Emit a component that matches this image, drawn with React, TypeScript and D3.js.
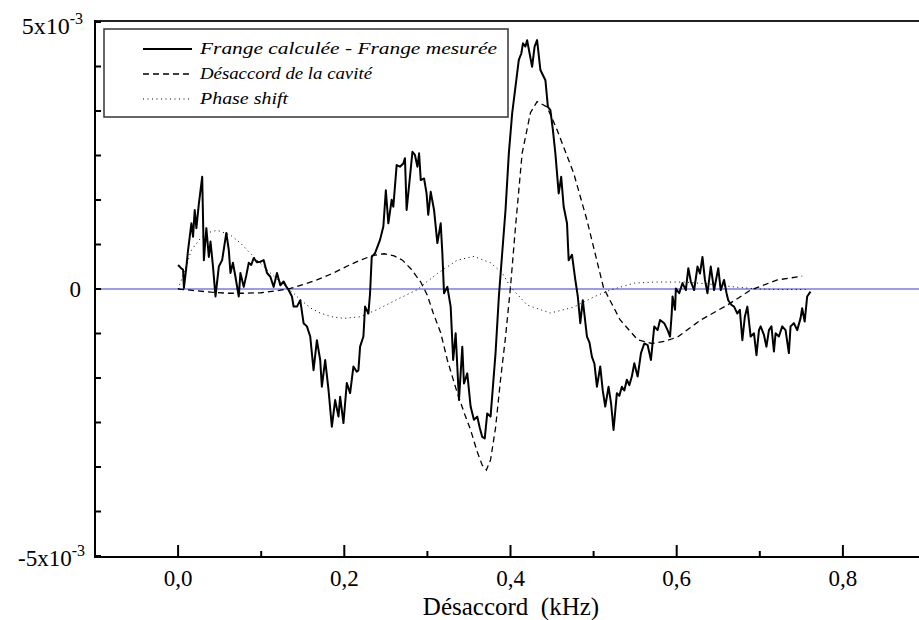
import React from "react";
import * as d3 from "d3";

// x in kHz, y in units of 1e-3
const solidData: [number, number][] = [
  [0.000, 0.45], [0.003, 0.40], [0.006, 0.36], [0.007, 0.02], [0.010, 0.42], [0.012, 0.73],
  [0.016, 1.23], [0.018, 0.98], [0.020, 1.48], [0.022, 1.14], [0.025, 1.6], [0.029, 2.10],
  [0.031, 0.54], [0.034, 1.14], [0.037, 0.60], [0.039, 0.89], [0.042, 0.42], [0.045, -0.14],
  [0.049, 0.42], [0.053, 0.54], [0.058, 1.05], [0.061, 0.73], [0.063, 0.30], [0.066, 0.49],
  [0.069, 0.23], [0.073, -0.14], [0.075, 0.30], [0.079, 0.04], [0.082, 0.25], [0.085, 0.49],
  [0.088, 0.45], [0.091, 0.58], [0.095, 0.50], [0.099, 0.51], [0.103, 0.54], [0.107, 0.30],
  [0.111, 0.23], [0.115, 0.04], [0.119, 0.30], [0.123, 0.07], [0.127, 0.14], [0.130, 0.05],
  [0.133, -0.02], [0.137, -0.14], [0.139, -0.33], [0.143, -0.33], [0.147, -0.21], [0.151, -0.64],
  [0.155, -0.70], [0.159, -0.89], [0.163, -1.52], [0.167, -0.96], [0.171, -1.33], [0.173, -1.83],
  [0.177, -1.33], [0.181, -1.89], [0.185, -2.58], [0.189, -2.08], [0.193, -2.39], [0.195, -2.02],
  [0.199, -2.51], [0.203, -1.76], [0.207, -1.95], [0.211, -1.45], [0.215, -1.55], [0.217, -1.52],
  [0.219, -1.08], [0.223, -0.89], [0.225, -0.33], [0.229, -0.46], [0.231, -0.08], [0.233, 0.60],
  [0.237, 0.67], [0.243, 0.92], [0.247, 1.17], [0.250, 1.85], [0.253, 1.23], [0.257, 1.67],
  [0.259, 1.54], [0.263, 2.32], [0.267, 2.29], [0.271, 2.35], [0.273, 2.45], [0.275, 1.48],
  [0.279, 2.10], [0.282, 2.57], [0.285, 2.51], [0.288, 2.29], [0.290, 2.54], [0.292, 2.04],
  [0.296, 2.07], [0.299, 1.79], [0.301, 1.39], [0.304, 1.82], [0.308, 1.48], [0.312, 0.86],
  [0.316, 1.23], [0.318, 0.67], [0.320, -0.08], [0.324, 0.04], [0.328, -0.33], [0.331, -1.33],
  [0.334, -0.83], [0.338, -2.08], [0.342, -1.08], [0.344, -1.77], [0.348, -1.58], [0.352, -2.20],
  [0.356, -2.45], [0.360, -2.39], [0.363, -2.6], [0.366, -2.77], [0.369, -2.8], [0.372, -2.33],
  [0.376, -2.39], [0.379, -1.8], [0.382, -1.20], [0.386, -0.14], [0.390, 0.67], [0.394, 1.48],
  [0.398, 2.54], [0.402, 3.29], [0.406, 3.79], [0.410, 4.29], [0.413, 4.41], [0.415, 4.60],
  [0.418, 4.54], [0.420, 4.66], [0.423, 4.41], [0.426, 4.16], [0.429, 4.54], [0.432, 4.66],
  [0.436, 4.10], [0.442, 3.91], [0.445, 3.41], [0.448, 3.35], [0.451, 2.98], [0.454, 2.54],
  [0.458, 1.79], [0.461, 2.10], [0.464, 1.54], [0.468, 1.23], [0.470, 0.54], [0.474, 0.64],
  [0.478, 0.17], [0.481, -0.14], [0.484, -0.64], [0.487, -0.21], [0.492, -0.89], [0.495, -1.0],
  [0.498, -1.27], [0.501, -1.4], [0.504, -1.83], [0.508, -1.45], [0.511, -1.9], [0.514, -2.20],
  [0.518, -1.83], [0.521, -2.14], [0.524, -2.64], [0.528, -1.95], [0.531, -2.0], [0.534, -1.83],
  [0.537, -1.9], [0.540, -1.70], [0.543, -1.8], [0.546, -1.64], [0.549, -1.39], [0.553, -1.64],
  [0.557, -1.20], [0.561, -1.02], [0.565, -1.05], [0.569, -1.33], [0.573, -0.70], [0.577, -0.77],
  [0.580, -0.58], [0.585, -0.64], [0.589, -0.77], [0.592, -0.89], [0.594, -0.46], [0.595, -0.14],
  [0.598, -0.39], [0.599, 0.01], [0.603, -0.08], [0.607, 0.11], [0.611, -0.02], [0.614, 0.39],
  [0.617, 0.14], [0.621, -0.02], [0.625, 0.42], [0.628, 0.29], [0.631, 0.60], [0.634, 0.17],
  [0.637, -0.08], [0.641, 0.42], [0.645, -0.02], [0.650, 0.39], [0.653, -0.02], [0.657, 0.17],
  [0.660, -0.08], [0.662, -0.21], [0.666, -0.30], [0.669, -0.33], [0.673, -0.46], [0.676, -0.39],
  [0.679, -0.96], [0.682, -0.52], [0.685, -0.33], [0.689, -0.89], [0.693, -0.83], [0.696, -1.24],
  [0.699, -0.77], [0.701, -0.70], [0.705, -0.86], [0.708, -1.08], [0.711, -0.77], [0.714, -0.70],
  [0.717, -1.17], [0.719, -0.83], [0.723, -0.89], [0.727, -0.70], [0.731, -0.77], [0.735, -1.20],
  [0.737, -0.70], [0.741, -0.64], [0.745, -0.77], [0.749, -0.55], [0.751, -0.36], [0.754, -0.61],
  [0.757, -0.14], [0.761, -0.05],
];

const dashedData: [number, number][] = [
  [0, 0], [0.02, -0.03], [0.04, -0.06], [0.06, -0.08], [0.08, -0.08], [0.10, -0.07], [0.12, -0.03],
  [0.135, 0.01], [0.15, 0.08], [0.167, 0.17], [0.187, 0.30], [0.205, 0.44], [0.219, 0.54],
  [0.235, 0.63], [0.248, 0.66], [0.26, 0.62], [0.27, 0.54], [0.28, 0.38], [0.292, 0.13],
  [0.30, -0.12], [0.307, -0.45], [0.316, -0.82], [0.324, -1.33], [0.336, -1.95], [0.345, -2.35],
  [0.352, -2.64], [0.36, -3.05], [0.366, -3.3], [0.371, -3.39], [0.376, -3.2], [0.382, -2.6],
  [0.388, -1.7], [0.394, -0.9], [0.40, 0.04], [0.406, 1.16], [0.414, 2.54], [0.424, 3.3],
  [0.432, 3.51], [0.444, 3.41], [0.456, 2.98], [0.476, 2.17], [0.492, 1.29], [0.512, 0.02],
  [0.532, -0.58], [0.553, -0.95], [0.57, -1.02], [0.585, -0.98], [0.601, -0.9], [0.629, -0.58],
  [0.661, -0.30], [0.689, -0.02], [0.721, 0.17], [0.751, 0.24],
];

const dottedData: [number, number][] = [
  [0, 0], [0.008, 0.35], [0.016, 0.73], [0.027, 0.95], [0.037, 1.06], [0.047, 1.10], [0.063, 1.01],
  [0.075, 0.86], [0.087, 0.67], [0.099, 0.48], [0.111, 0.30], [0.123, 0.13], [0.135, -0.02],
  [0.147, -0.2], [0.16, -0.36], [0.171, -0.45], [0.185, -0.52], [0.199, -0.55], [0.219, -0.52],
  [0.239, -0.39], [0.263, -0.2], [0.287, -0.02], [0.312, 0.29], [0.336, 0.54], [0.356, 0.61],
  [0.376, 0.49], [0.39, 0.3], [0.40, 0.04], [0.42, -0.30], [0.448, -0.45], [0.476, -0.34],
  [0.5, -0.15], [0.52, -0.02], [0.549, 0.11], [0.573, 0.13], [0.609, 0.13], [0.641, 0.09],
  [0.669, 0.04], [0.697, 0.0], [0.725, -0.01], [0.755, -0.01],
];

const xMajorTicks = [0, 0.2, 0.4, 0.6, 0.8];
const xMinorTicks = [0.1, 0.3, 0.5, 0.7];
const xTickLabels = ["0,0", "0,2", "0,4", "0,6", "0,8"];
const yTicks = [-5, -25 / 6, -20 / 6, -15 / 6, -10 / 6, -5 / 6, 0, 5 / 6, 10 / 6, 15 / 6, 20 / 6, 25 / 6, 5];

const legendItems = [
  { label: "Frange calculée - Frange mesurée", dash: "none", width: 2, len: 297 },
  { label: "Désaccord de la cavité", dash: "6,4", width: 1.3, len: 172 },
  { label: "Phase shift", dash: "1,3.5", width: 1, len: 88 },
];

export default function App() {
  const x = d3.scaleLinear().domain([-0.1, 0.9]).range([95, 926]);
  const y = d3.scaleLinear().domain([-5, 5]).range([556, 22]);
  const line = d3
    .line<[number, number]>()
    .x((d) => x(d[0]))
    .y((d) => y(d[1]));
  const serif = "'Liberation Serif', 'Times New Roman', serif";

  return (
    <svg
      width={919}
      height={620}
      style={{ position: "absolute", left: 0, top: 0, background: "#fff" }}
    >
      <rect x={0} y={0} width={919} height={620} fill="#fff" />
      {/* zero line */}
      <line x1={x(-0.1)} x2={919} y1={y(0)} y2={y(0)} stroke="#3a3ae0" strokeWidth={1.2} />
      {/* series */}
      <path d={line(dottedData) || ""} fill="none" stroke="#000" strokeWidth={1} strokeDasharray="1,3.5" />
      <path d={line(dashedData) || ""} fill="none" stroke="#000" strokeWidth={1.3} strokeDasharray="6,4" />
      <path d={line(solidData) || ""} fill="none" stroke="#000" strokeWidth={2} strokeLinejoin="round" />

      {/* frame */}
      <line x1={x(-0.1)} x2={919} y1={y(5) - 1} y2={y(5) - 1} stroke="#222" strokeWidth={2} />
      <line x1={x(-0.1)} x2={x(-0.1)} y1={y(5) - 2} y2={y(-5) + 1} stroke="#000" strokeWidth={2} />
      <line x1={x(-0.1) - 1} x2={919} y1={y(-5) + 1} y2={y(-5) + 1} stroke="#000" strokeWidth={2} />

      {/* y ticks */}
      {yTicks.map((t, i) => (
        <line key={i} x1={x(-0.1)} x2={x(-0.1) + 6} y1={y(t)} y2={y(t)} stroke="#000" strokeWidth={2} />
      ))}
      {/* x ticks */}
      {xMajorTicks.map((t, i) => (
        <line key={"M" + i} x1={x(t)} x2={x(t)} y1={y(-5) + 1} y2={y(-5) - 11} stroke="#000" strokeWidth={2} />
      ))}
      {xMinorTicks.map((t, i) => (
        <line key={"m" + i} x1={x(t)} x2={x(t)} y1={y(-5) + 1} y2={y(-5) - 5} stroke="#000" strokeWidth={2} />
      ))}
      {xMajorTicks.map((t, i) => (
        <text key={"l" + i} x={x(t)} y={586} textAnchor="middle" fontFamily={serif} fontSize={23} fill="#000">
          {xTickLabels[i]}
        </text>
      ))}
      <text
        x={511}
        y={615}
        textAnchor="middle"
        fontFamily={serif}
        fontSize={25}
        fill="#000"
        style={{ whiteSpace: "pre" }}
      >
        {"Désaccord  (kHz)"}
      </text>

      {/* y labels */}
      <text x={83} y={34} textAnchor="end" fontFamily={serif} fontSize={24} fill="#000">
        5x10<tspan fontSize={16} dy={-10}>-3</tspan>
      </text>
      <text x={81} y={y(0) + 8} textAnchor="end" fontFamily={serif} fontSize={23} fill="#000">
        0
      </text>
      <text x={85} y={566} textAnchor="end" fontFamily={serif} fontSize={23} fill="#000">
        -5x10<tspan fontSize={16} dy={-10}>-3</tspan>
      </text>

      {/* legend */}
      <rect x={104} y={29} width={404} height={88} fill="#fff" stroke="#333" strokeWidth={1.5} />
      {legendItems.map((it, i) => (
        <g key={i}>
          <line
            x1={143}
            x2={192}
            y1={49 + i * 25}
            y2={49 + i * 25}
            stroke="#000"
            strokeWidth={it.width}
            strokeDasharray={it.dash}
          />
          <text
            x={200}
            y={54 + i * 25}
            fontFamily={serif}
            fontStyle="italic"
            fontSize={17}
            textLength={it.len}
            lengthAdjust="spacingAndGlyphs"
            fill="#000"
          >
            {it.label}
          </text>
        </g>
      ))}
    </svg>
  );
}
